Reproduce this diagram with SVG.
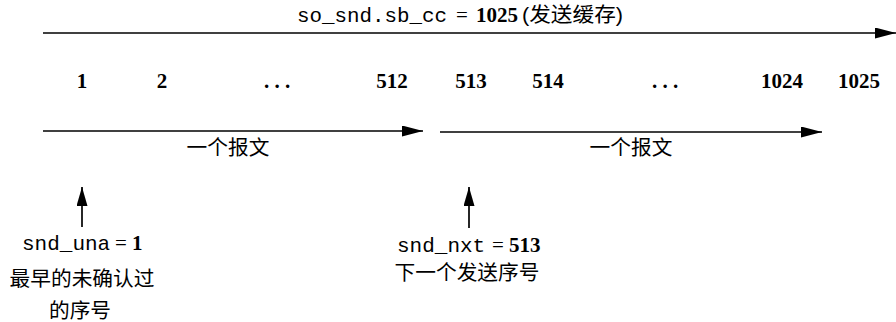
<svg xmlns="http://www.w3.org/2000/svg" width="896" height="322" viewBox="0 0 896 322">
<style>
.ln{stroke:#000;stroke-width:1.7;fill:none}
.mono{font-family:"Liberation Mono","DejaVu Sans Mono",monospace;font-size:21px}
.num{font-family:"Liberation Serif","DejaVu Serif",serif;font-size:21px;font-weight:bold}
.eq{font-family:"Liberation Serif","DejaVu Serif",serif;font-size:21px}
.cjk{font-family:"Liberation Sans","Noto Sans CJK SC",sans-serif;font-size:20.7px}
text{fill:#000}
</style>
<defs>
<marker id="ah" markerWidth="21" markerHeight="11" refX="21" refY="5.5" orient="auto" markerUnits="userSpaceOnUse">
<path d="M0,0 L21,5.5 L0,11 Z" fill="#000"/>
</marker>
<marker id="ahu" markerWidth="19" markerHeight="11" refX="19" refY="5.5" orient="auto" markerUnits="userSpaceOnUse">
<path d="M0,0 L19,5.5 L0,11 Z" fill="#000"/>
</marker>
</defs>
<g id="connectors">
<line class="ln" x1="43" y1="33" x2="896" y2="33" marker-end="url(#ah)"/>
<line class="ln" x1="43" y1="131" x2="423" y2="131" marker-end="url(#ah)"/>
<line class="ln" x1="440" y1="132" x2="822" y2="132" marker-end="url(#ah)"/>
<line class="ln" x1="82" y1="227" x2="82" y2="187" marker-end="url(#ahu)"/>
<line class="ln" x1="469" y1="228" x2="469" y2="187" marker-end="url(#ahu)"/>
</g>
<g id="buffer-label">
<text class="mono" x="297" y="22" textLength="150" lengthAdjust="spacingAndGlyphs">so_snd.sb_cc</text>
<text class="eq" x="456" y="22">=</text>
<text class="num" x="476" y="22">1025</text>
<text class="cjk" x="522" y="22" textLength="101" lengthAdjust="spacingAndGlyphs">(发送缓存)</text>
</g>
<g id="numbers" text-anchor="middle">
<text class="num" x="82" y="88">1</text>
<text class="num" x="162" y="88">2</text>
<text class="num" x="277" y="88">. . .</text>
<text class="num" x="392" y="88">512</text>
<text class="num" x="471" y="88">513</text>
<text class="num" x="548" y="88">514</text>
<text class="num" x="665" y="88">. . .</text>
<text class="num" x="782" y="88">1024</text>
<text class="num" x="859" y="88">1025</text>
</g>
<g id="seg1"><text class="cjk" x="228" y="155" text-anchor="middle">一个报文</text></g>
<g id="seg2"><text class="cjk" x="631" y="155" text-anchor="middle">一个报文</text></g>
<g id="snd_una">
<text class="mono" x="22" y="250">snd_una</text>
<text class="eq" x="115" y="250">= <tspan class="num">1</tspan></text>
<text class="cjk" x="82" y="286" text-anchor="middle">最早的未确认过</text>
<text class="cjk" x="80" y="318" text-anchor="middle">的序号</text>
</g>
<g id="snd_nxt">
<text class="mono" x="397" y="252">snd_nxt</text>
<text class="eq" x="492" y="252">= <tspan class="num">513</tspan></text>
<text class="cjk" x="467" y="280" text-anchor="middle">下一个发送序号</text>
</g>
</svg>
